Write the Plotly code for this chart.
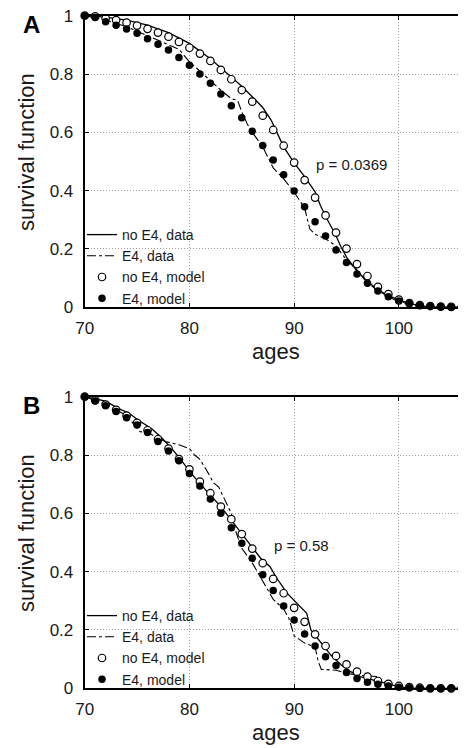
import plotly.graph_objects as go

# page body has an 8px default margin, so the figure is drawn 8px in from the corner
OFF = 8
W, H = 466 - OFF, 748 - OFF

# ---------------- data ----------------
model_ages = list(range(70, 107))

# Panel A
A_noE4_model = [1.0, 0.998, 0.991, 0.985, 0.976, 0.966, 0.955, 0.942, 0.928, 0.910,
                0.890, 0.870, 0.845, 0.814, 0.782, 0.745, 0.705, 0.657, 0.608, 0.554,
                0.496, 0.436, 0.376, 0.315, 0.256, 0.201, 0.148, 0.107, 0.070, 0.045,
                0.026, 0.014, 0.007, 0.004, 0.002, 0.001, 0.0]
A_E4_model = [1.0, 0.994, 0.979, 0.967, 0.954, 0.940, 0.921, 0.902, 0.882, 0.857,
              0.830, 0.800, 0.768, 0.731, 0.691, 0.650, 0.604, 0.555, 0.505, 0.454,
              0.399, 0.345, 0.293, 0.244, 0.196, 0.153, 0.114, 0.082, 0.056, 0.036,
              0.021, 0.013, 0.007, 0.004, 0.002, 0.001, 0.0]

A_noE4_data_x = [70, 72, 74, 76, 78, 80, 82, 84, 85, 86, 87, 87.8, 88.5, 89, 90, 91,
                 92, 92.5, 93, 93.5, 94, 94.5, 95, 96, 97, 98, 99, 100, 101, 102, 103, 106]
A_noE4_data_y = [1.0, 0.995, 0.985, 0.968, 0.942, 0.905, 0.852, 0.790, 0.758, 0.722,
                 0.685, 0.642, 0.590, 0.550, 0.495, 0.448, 0.396, 0.350, 0.312, 0.280,
                 0.245, 0.205, 0.172, 0.124, 0.088, 0.060, 0.040, 0.025, 0.012, 0.006,
                 0.0, 0.0]
A_E4_data_x = [70, 72, 74, 76, 78, 79, 80, 81, 82, 83, 84, 84.6, 85, 85.5, 86, 87, 88,
               89, 90, 91, 91.5, 92, 93, 94, 95, 96, 97, 98, 99, 100, 101, 102, 106]
A_E4_data_y = [1.0, 0.985, 0.962, 0.932, 0.900, 0.885, 0.842, 0.810, 0.775, 0.745,
               0.715, 0.710, 0.670, 0.630, 0.600, 0.550, 0.478, 0.440, 0.395, 0.340,
               0.268, 0.250, 0.235, 0.210, 0.162, 0.128, 0.082, 0.058, 0.035, 0.020,
               0.010, 0.0, 0.0]

# Panel B
B_noE4_model = [1.0, 0.988, 0.973, 0.955, 0.935, 0.910, 0.885, 0.854, 0.822, 0.786,
                0.751, 0.709, 0.669, 0.623, 0.580, 0.529, 0.479, 0.429, 0.375, 0.326,
                0.276, 0.228, 0.185, 0.145, 0.111, 0.082, 0.057, 0.040, 0.025, 0.015,
                0.008, 0.004, 0.002, 0.0, 0.0, 0.0, 0.0]
B_E4_model = [1.0, 0.985, 0.969, 0.949, 0.928, 0.903, 0.877, 0.846, 0.814, 0.780,
              0.737, 0.694, 0.649, 0.600, 0.551, 0.497, 0.446, 0.389, 0.335, 0.282,
              0.234, 0.186, 0.145, 0.108, 0.078, 0.054, 0.034, 0.021, 0.014, 0.008,
              0.004, 0.002, 0.0, 0.0, 0.0, 0.0, 0.0]

B_noE4_data_x = [70, 72, 73.2, 74.2, 75.1, 76.4, 77.3, 78.3, 79.2, 80, 81, 82, 83, 84,
                 85, 86, 86.8, 87.7, 88.3, 89.3, 90.3, 91.2, 91.6, 92.6, 93.5, 94.5,
                 95.4, 96.3, 97.3, 98.2, 99.5, 101, 106]
B_noE4_data_y = [1.0, 0.985, 0.960, 0.944, 0.920, 0.890, 0.861, 0.823, 0.783, 0.745,
                 0.702, 0.662, 0.623, 0.577, 0.531, 0.486, 0.446, 0.417, 0.380, 0.327,
                 0.291, 0.257, 0.200, 0.154, 0.114, 0.080, 0.057, 0.040, 0.030, 0.021,
                 0.010, 0.0, 0.0]
B_E4_data_x = [70, 72, 74, 75.3, 76, 77.7, 79, 80, 80.5, 81, 81.6, 82.3, 82.8, 83.3,
               84, 84.5, 85, 86, 87, 88, 89, 89.5, 90, 91, 92, 92.3, 92.6, 94, 95,
               96, 98, 99, 100, 106]
B_E4_data_y = [1.0, 0.975, 0.935, 0.880, 0.877, 0.846, 0.835, 0.822, 0.800, 0.785,
               0.750, 0.705, 0.690, 0.650, 0.600, 0.530, 0.480, 0.430, 0.370, 0.305,
               0.272, 0.240, 0.180, 0.155, 0.142, 0.092, 0.065, 0.062, 0.052, 0.045,
               0.040, 0.010, 0.0, 0.0]

x_ticks = [70, 80, 90, 100]
y_ticks = [0, 0.2, 0.4, 0.6, 0.8, 1.0]
legend_names = ["no E4, data", "E4, data", "no E4, model", "E4, model"]
p_values = ["p = 0.0369", "p = 0.58"]
p_pos = [(95.45, 0.491), (90.67, 0.491)]
panel_letters = ["A", "B"]

# ---------------- layout geometry (pixels of the 466x748 window) ----------------
x_left, x_right = 84.7, 461.7
panels_px = [(15.7, 307.2), (396.7, 688.3)]  # (top, bottom)

def px_x(p):
    return (p - OFF) / W

def px_y(p):
    return 1 - (p - OFF) / H

FONT = "Liberation Sans, Arial, Helvetica, sans-serif"

fig = go.Figure()

panels = [
    (A_noE4_data_x, A_noE4_data_y, A_E4_data_x, A_E4_data_y, A_noE4_model, A_E4_model),
    (B_noE4_data_x, B_noE4_data_y, B_E4_data_x, B_E4_data_y, B_noE4_model, B_E4_model),
]

for i, (nx, ny, ex, ey, nm, em) in enumerate(panels):
    xa = "x" if i == 0 else "x2"
    ya = "y" if i == 0 else "y2"
    lg = "legend" if i == 0 else "legend2"
    fig.add_trace(go.Scatter(x=nx, y=ny, mode="lines", name=legend_names[0],
                             line=dict(color="black", width=1.3),
                             xaxis=xa, yaxis=ya, legend=lg))
    fig.add_trace(go.Scatter(x=ex, y=ey, mode="lines", name=legend_names[1],
                             line=dict(color="black", width=1.1, dash="dashdot"),
                             xaxis=xa, yaxis=ya, legend=lg))
    fig.add_trace(go.Scatter(x=model_ages, y=nm, mode="markers", name=legend_names[2],
                             marker=dict(symbol="circle", size=7.5, color="white",
                                         line=dict(color="black", width=1.2)),
                             cliponaxis=False, xaxis=xa, yaxis=ya, legend=lg))
    fig.add_trace(go.Scatter(x=model_ages, y=em, mode="markers", name=legend_names[3],
                             marker=dict(symbol="circle", size=7.5, color="black",
                                         line=dict(color="black", width=0)),
                             cliponaxis=False, xaxis=xa, yaxis=ya, legend=lg))

axis_common = dict(
    showline=True, linecolor="black", linewidth=2, mirror="allticks",
    ticks="inside", ticklen=4, tickcolor="black", tickwidth=1,
    showgrid=True, gridcolor="#a0a0a0", griddash="1px,2px", gridwidth=1,
    zeroline=False, automargin=False, ticklabeloverflow="allow",
    tickfont=dict(family=FONT, size=17, color="#1a1a1a"),
)

layout = dict(
    width=W, height=H, margin=dict(l=0, r=0, t=0, b=0, autoexpand=False),
    paper_bgcolor="white", plot_bgcolor="white", showlegend=True,
    font=dict(family=FONT, color="#1a1a1a"),
)

for i, (top, bot) in enumerate(panels_px):
    sfx = "" if i == 0 else "2"
    layout["xaxis" + sfx] = dict(axis_common, range=[70, 106], tickvals=x_ticks,
                                 domain=[px_x(x_left), px_x(x_right)],
                                 anchor="y" + sfx, ticklabelstandoff=4)
    layout["yaxis" + sfx] = dict(axis_common, range=[0, 1], tickvals=y_ticks,
                                 domain=[px_y(bot), px_y(top)],
                                 anchor="x" + sfx, ticklabelstandoff=6)
    leg = dict(x=px_x(82), y=px_y(219 + i * 381), xanchor="left", yanchor="top",
               bgcolor="rgba(0,0,0,0)", borderwidth=0,
               font=dict(family=FONT, size=14, color="#1a1a1a"),
               tracegroupgap=0, itemwidth=30)
    layout["legend" if i == 0 else "legend2"] = leg

fig.update_layout(**layout)

annotations = []
for i, (top, bot) in enumerate(panels_px):
    sfx = "" if i == 0 else "2"
    off = i * 381
    annotations.append(dict(x=p_pos[i][0], y=p_pos[i][1], xref="x" + sfx, yref="y" + sfx,
                            text=p_values[i], showarrow=False, xanchor="center",
                            yanchor="middle", font=dict(family=FONT, size=15, color="#1a1a1a")))
    annotations.append(dict(x=px_x(26), y=px_y(152 + off), xref="paper", yref="paper",
                            text="survival function", textangle=-90, showarrow=False,
                            xanchor="center", yanchor="middle",
                            font=dict(family=FONT, size=22, color="#1a1a1a")))
    annotations.append(dict(x=px_x(276), y=px_y(351 + off), xref="paper", yref="paper",
                            text="ages", showarrow=False, xanchor="center", yanchor="middle",
                            font=dict(family=FONT, size=22, color="#1a1a1a")))
    annotations.append(dict(x=px_x(31), y=px_y(25 + off), xref="paper", yref="paper",
                            text="<b>" + panel_letters[i] + "</b>", showarrow=False,
                            xanchor="center", yanchor="middle",
                            font=dict(family=FONT, size=24, color="black")))

fig.update_layout(annotations=annotations)
fig.write_html("out.html")
